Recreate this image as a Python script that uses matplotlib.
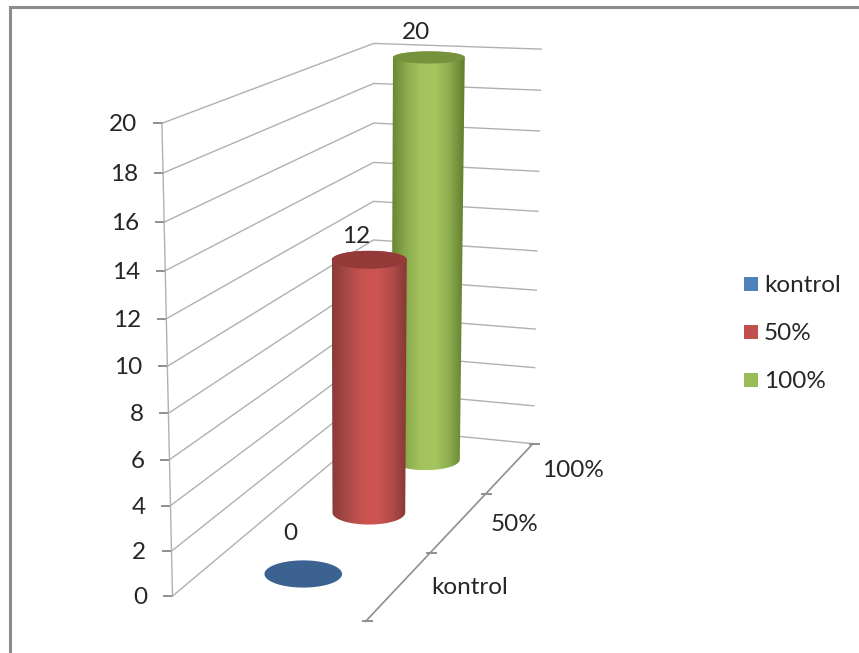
import matplotlib
matplotlib.use('Agg')
import matplotlib.pyplot as plt
import numpy as np
from matplotlib.colors import LinearSegmentedColormap
from matplotlib.patches import Polygon, Rectangle

plt.rcParams['font.family'] = ['Lato', 'DejaVu Sans']

categories = ['kontrol', '50%', '100%']
values = [0, 12, 20]
y_ticks = [0, 2, 4, 6, 8, 10, 12, 14, 16, 18, 20]

Y_MAX = 20
FONT_SIZE = 17.5
TEXT = '#262626'
GRID = '#b0b0b0'
AXIS = '#8f8f8f'
SWATCH = ['#4f81bd', '#c0504d', '#9bbb59']
CAP = ['#3b6290', '#943b39', '#76923c']
SIDE = [None,
        ['#8a3a38', '#a84a47', '#c9524f', '#cc5552', '#b34c49', '#853836'],
        ['#66842f', '#8aa94c', '#a3c45d', '#a5c65e', '#8cab4e', '#5f7c2c']]
LABEL_RISE = [40, 23, 25]


def fit_camera(scene, image):
    """Least squares 3x4 projection from (u, w, v) box corners to pixels."""
    rows, rhs = [], []
    for (u, w, v), (px, py) in zip(scene, image):
        rows.append([u, w, v, 1, 0, 0, 0, 0, -px * u, -px * w, -px * v])
        rhs.append(px)
        rows.append([0, 0, 0, 0, u, w, v, 1, -py * u, -py * w, -py * v])
        rhs.append(py)
    m = np.linalg.lstsq(np.array(rows, float), np.array(rhs, float), rcond=None)[0]
    return np.append(m, 1.0).reshape(3, 4)


# u: across the floor, w: depth (0 front, 1 back), v: value / Y_MAX
scene_box = [(0, 0, 0), (0, 0, 1), (0, 1, 0), (0, 1, 1),
             (1, 1, 0), (1, 1, 1), (1, 0, 0)]
image_box = [(171, 592), (162, 124), (374, 432), (374, 42),
             (532, 440), (541, 50), (367, 625)]
CAM = fit_camera(scene_box, image_box)


def project(u, w, v):
    u, w, v = np.broadcast_arrays(np.asarray(u, float), np.asarray(w, float), np.asarray(v, float))
    out = CAM @ np.stack([u, w, v, np.ones_like(v)])
    return out[0] / out[2], out[1] / out[2]


def disc(w, v):
    """Centre and radii of the upright ellipse for a column end."""
    mid_u, half_u = 0.495, 0.208
    cx, cy = project(mid_u, w, v)
    x0, _ = project(mid_u - half_u, w, v)
    x1, _ = project(mid_u + half_u, w, v)
    rx = (x1 - x0) / 2
    # the ends flatten towards the top of the scene
    ry = rx * (0.17 + (cy - 58) / 515 * 0.18)
    return float(cx), float(cy), float(rx), float(ry)


fig = plt.figure(figsize=(8.59, 6.53), dpi=100)
ax = fig.add_axes([0, 0, 1, 1])
ax.set_axis_off()

# outer frame, only top and left show
ax.plot([9.5, 9.5, 859], [653, 7.3, 7.3], color='#8c8c8c', lw=2.2, solid_joinstyle='miter')

# walls and value axis
for tick in y_ticks:
    v = tick / Y_MAX
    xs, ys = project([0, 0, 1], [0, 1, 1], [v, v, v])
    ax.plot(xs, ys, color=GRID, lw=1.0, zorder=1)
    ax.plot([xs[0] - 8, xs[0]], [ys[0], ys[0]], color=AXIS, lw=1.4, zorder=1)
    ax.text(xs[0] - 25, ys[0] + 1.5, str(tick), ha='right', va='center', fontsize=FONT_SIZE, color=TEXT)
xs, ys = project([0, 0], [0, 0], [0, 1])
ax.plot(xs, ys, color=GRID, lw=1.0, zorder=1)

# depth axis along the floor
xs, ys = project([1, 1], [0, 1], [0, 0])
ax.plot(xs, ys, color=AXIS, lw=1.2, zorder=1)
for i in range(len(categories) + 1):
    px, py = project(1, i / len(categories), 0)
    ax.plot([px - 3, px + 6], [py, py], color=AXIS, lw=1.4, zorder=1)
for i, name in enumerate(categories):
    px, py = project(1, (i + 0.5) / len(categories), 0)
    ax.text(px + 32, py + 2, name, ha='left', va='center', fontsize=FONT_SIZE, color=TEXT)

# columns, back to front
t = np.linspace(0, 2 * np.pi, 180)
half = np.linspace(0, np.pi, 90)
for i in reversed(range(len(values))):
    w = (i + 0.5) / len(values)
    bx, by, brx, bry = disc(w, 0.0)
    tx, ty, trx, try_ = disc(w, values[i] / Y_MAX)
    z = 3 + len(values) - i
    if values[i] > 0:
        # sweep the base's front arc, then close over the top's back arc
        outline = np.column_stack([
            np.r_[bx - brx * np.cos(half), tx + trx * np.cos(half)],
            np.r_[by + bry * np.sin(half), ty - try_ * np.sin(half)],
        ])
        clip = Polygon(outline, closed=True, fc='none', ec='none', transform=ax.transData)
        ax.add_patch(clip)
        shade = LinearSegmentedColormap.from_list('side', SIDE[i])
        im = ax.imshow(np.linspace(0, 1, 256)[None, :], cmap=shade, aspect='auto', zorder=z,
                       extent=[outline[:, 0].min(), outline[:, 0].max(),
                               outline[:, 1].max(), outline[:, 1].min()])
        im.set_clip_path(clip)
    ax.fill(tx + trx * np.cos(t), ty + try_ * np.sin(t), color=CAP[i], lw=0, zorder=z + 0.1)
    ax.text(tx - 13, ty - LABEL_RISE[i], str(values[i]), ha='center', va='center',
            fontsize=FONT_SIZE, color=TEXT, zorder=9)

# legend
for i, name in enumerate(categories):
    y = 284 + 48 * i
    ax.add_patch(Rectangle((744, y - 7), 14, 14, fc=SWATCH[i], ec='none'))
    ax.text(764, y + 2, name, ha='left', va='center', fontsize=FONT_SIZE, color=TEXT)

ax.set_xlim(0, 859)
ax.set_ylim(653, 0)
fig.savefig('out.png', dpi=100, facecolor='white')
